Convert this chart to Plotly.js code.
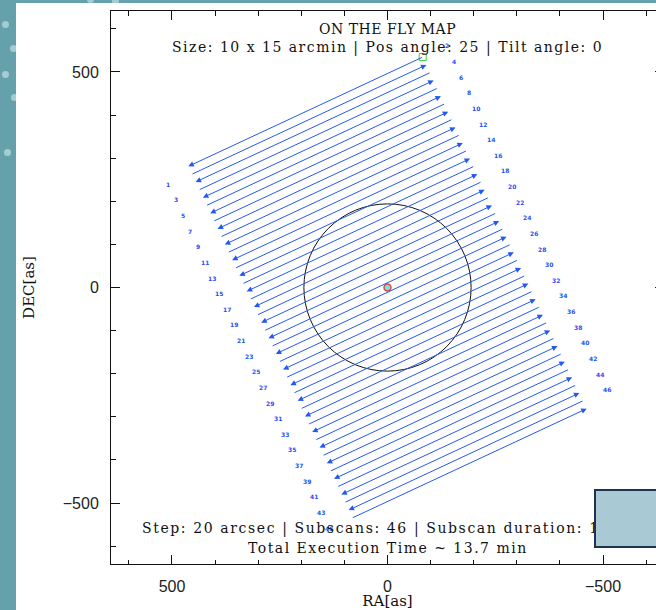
<!DOCTYPE html>
<html><head><meta charset="utf-8">
<script src="https://cdn.plot.ly/plotly-3.0.1.min.js"></script>
<style>
html,body{margin:0;padding:0;width:656px;height:610px;overflow:hidden;background:#65a1ab;}
body{position:relative;}
#chart{position:absolute;left:16px;top:3px;width:660px;height:607px;background:#fff;z-index:2;}
.dot{position:absolute;width:7px;height:7px;border-radius:50%;background:#a6ccd3;z-index:1;}
#box{position:absolute;left:594px;top:489px;width:80px;height:55px;background:#a9c9d5;border:2.5px solid #1e3352;z-index:10;}
</style></head><body>
<div class="dot" style="left:2px;top:21px"></div>
<div class="dot" style="left:10px;top:45px"></div>
<div class="dot" style="left:2px;top:71px"></div>
<div class="dot" style="left:11px;top:94px"></div>
<div class="dot" style="left:4px;top:149px"></div>
<div class="dot" style="left:87px;top:-4px"></div>
<div class="dot" style="left:112px;top:-2px"></div>
<div id="chart"></div>
<div id="box"></div>
<script>
// Subscan numbers
const scanNumbers = [1,2,3,4,5,6,7,8,9,10,11,12,13,14,15,16,17,18,19,20,21,22,23,24,25,26,27,28,29,30,31,32,33,34,35,36,37,38,39,40,41,42,43,44,45,46];
// Subscan start points (RA, DEC in arcsec)
const startRA = [-81.7,453.6,-98.6,436.7,-115.5,419.8,-132.4,402.9,-149.3,386.0,-166.2,369.1,-183.1,352.2,-200.1,335.3,-217.0,318.4,-233.9,301.5,-250.8,284.6,-267.7,267.7,-284.6,250.8,-301.5,233.9,-318.4,217.0,-335.3,200.1,-352.2,183.1,-369.1,166.2,-386.0,149.3,-402.9,132.4,-419.8,115.5,-436.7,98.6,-453.6,81.7];
const startDEC = [534.6,262.9,498.4,226.7,462.1,190.4,425.9,154.2,389.6,117.9,353.4,81.7,317.1,45.4,280.9,9.2,244.6,-27.1,208.4,-63.4,172.1,-99.6,135.9,-135.9,99.6,-172.1,63.4,-208.4,27.1,-244.6,-9.2,-280.9,-45.4,-317.1,-81.7,-353.4,-117.9,-389.6,-154.2,-425.9,-190.4,-462.1,-226.7,-498.4,-262.9,-534.6];
// Subscan end points (arrow tips)
const endRA = [462.1,-90.2,445.2,-107.1,428.3,-124.0,411.4,-140.9,394.4,-157.8,377.5,-174.7,360.6,-191.6,343.7,-208.5,326.8,-225.4,309.9,-242.3,293.0,-259.2,276.1,-276.1,259.2,-293.0,242.3,-309.9,225.4,-326.8,208.5,-343.7,191.6,-360.6,174.7,-377.5,157.8,-394.4,140.9,-411.4,124.0,-428.3,107.1,-445.2,90.2,-462.1];
const endDEC = [281.1,516.5,244.8,480.3,208.5,444.0,172.3,407.7,136.0,371.5,99.8,335.2,63.5,299.0,27.3,262.7,-9.0,226.5,-45.2,190.2,-81.5,154.0,-117.7,117.7,-154.0,81.5,-190.2,45.2,-226.5,9.0,-262.7,-27.3,-299.0,-63.5,-335.2,-99.8,-371.5,-136.0,-407.7,-172.3,-444.0,-208.5,-480.3,-244.8,-516.5,-281.1];
// Source and beam circle
const sourceRA = [0];
const sourceDEC = [0];
const circleRadius = 194;
// Text
const titleLine1 = "ON THE FLY MAP";
const titleLine2 = "Size: 10 x 15 arcmin | Pos angle: 25 | Tilt angle: 0";
const footLine1 = "Step: 20 arcsec | Subscans: 46 | Subscan duration: 15 sec";
const footLine2 = "Total Execution Time ~ 13.7 min";
const xTickVals = [500, 0, -500];
const xTickText = ["500", "0", "\u2212500"];
const yTickVals = [500, 0, -500];
const yTickText = ["500", "0", "\u2212500"];

const blue = '#2459f0';
const annotations = [];
for (let i = 0; i < scanNumbers.length; i++) {
  annotations.push({
    x: endRA[i], y: endDEC[i], xref: 'x', yref: 'y',
    ax: startRA[i], ay: startDEC[i], axref: 'x', ayref: 'y',
    text: '', showarrow: true, arrowhead: 2, arrowsize: 1.1, arrowwidth: 1,
    arrowcolor: blue, standoff: 0, startstandoff: 0, borderpad: 0
  });
}
for (let i = 0; i < scanNumbers.length; i++) {
  const odd = scanNumbers[i] % 2 === 1;
  annotations.push({
    x: endRA[i], y: endDEC[i], xref: 'x', yref: 'y',
    text: '<b>' + String(scanNumbers[i]) + '</b>', showarrow: false,
    xshift: odd ? -20 : 20.5, yshift: odd ? -18 : 19,
    font: {family: 'DejaVu Sans', size: 6, color: '#1f50f5'}
  });
}
const serif = 'DejaVu Serif';
function txt(t, x, y, ls, anchor) {
  return {x: x, y: y, xref: 'x', yref: 'y', showarrow: false,
    text: '<span style="letter-spacing:' + ls + 'px">' + t + '</span>',
    font: {family: serif, size: 14, color: '#111'}, xanchor: anchor, yanchor: 'middle'};
}
annotations.push(txt(titleLine1, 0, 600, 0.5, 'center'));
annotations.push(txt(titleLine2, 0, 557, 1.5, 'center'));
annotations.push(txt(footLine1, 573.6, -558.5, 1.6, 'left'));
annotations.push(txt(footLine2, 0, -605, 1.5, 'center'));

const traces = [
  {x: [startRA[0]], y: [startDEC[0]], type: 'scatter', mode: 'markers',
   marker: {symbol: 'square-open', size: 7, color: '#3ccc3c', line: {width: 1}}, hoverinfo: 'skip'},
  {x: sourceRA, y: sourceDEC, type: 'scatter', mode: 'markers',
   marker: {symbol: 'circle', size: 7, color: '#6fe3e6', line: {color: '#e0483c', width: 1.5}}, hoverinfo: 'skip'}
];

const axisCommon = {
  showgrid: false, zeroline: false, showline: true, linecolor: '#111', linewidth: 1,
  mirror: 'ticks', ticks: 'inside', ticklen: 9, tickwidth: 1, tickcolor: '#111',
  tickmode: 'array',
  minor: {dtick: 100, tick0: 0, ticks: 'inside', ticklen: 4.5, tickwidth: 1, tickcolor: '#111', showgrid: false},
  tickfont: {family: 'Liberation Sans', size: 16, color: '#222'}
};

const layout = {
  width: 660, height: 607,
  margin: {l: 94.7, r: 11.7, t: 7.7, b: 45.5},
  paper_bgcolor: '#fff', plot_bgcolor: '#fff',
  showlegend: false,
  xaxis: Object.assign({}, axisCommon, {
    range: [641.5, -641.5], tickvals: xTickVals, ticktext: xTickText,
    ticklabelstandoff: 8,
    title: {text: 'RA[as]', font: {family: serif, size: 15, color: '#111'}, standoff: 3}
  }),
  yaxis: Object.assign({}, axisCommon, {
    range: [-641.5, 641.5], tickvals: yTickVals, ticktext: yTickText,
    ticklabelstandoff: 8,
    title: {text: 'DEC[as]', font: {family: serif, size: 15, color: '#111'}, standoff: 24}
  }),
  shapes: [{type: 'circle', xref: 'x', yref: 'y', x0: -circleRadius, x1: circleRadius,
            y0: -circleRadius, y1: circleRadius, line: {color: '#111', width: 1}}],
  annotations: annotations
};
Plotly.newPlot('chart', traces, layout, {displayModeBar: false, staticPlot: true});
</script>
</body></html>
